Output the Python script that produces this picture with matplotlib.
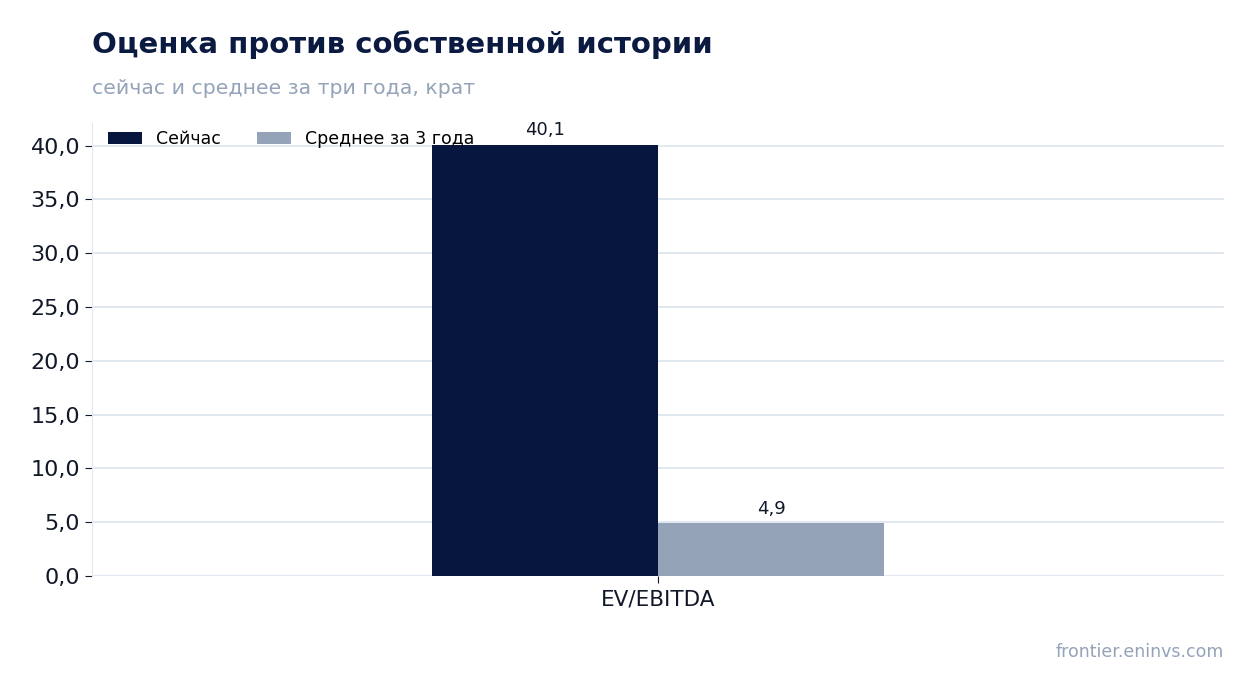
import matplotlib.pyplot as plt
import numpy as np

categories = ['EV/EBITDA']
now_vals = [40.1]
avg_vals = [4.9]
series_names = ['Сейчас', 'Среднее за 3 года']

navy = '#06163f'
grey = '#94a3b8'

fig = plt.figure(figsize=(12.54, 6.93), dpi=100)
ax = fig.add_axes([0.0734, 0.1688, 0.9026, 0.6537])

x = np.arange(len(categories))
w = 0.4
b1 = ax.bar(x - w / 2, now_vals, w, color=navy, label=series_names[0], zorder=3)
b2 = ax.bar(x + w / 2, avg_vals, w, color=grey, label=series_names[1], zorder=3)

for bars in (b1, b2):
    for r in bars:
        ax.text(r.get_x() + r.get_width() / 2, r.get_height() + 0.5,
                f'{r.get_height():.1f}'.replace('.', ','),
                ha='center', va='bottom', fontsize=13, color='#111827')

ax.set_xlim(-1, 1)
ax.set_ylim(0, max(now_vals) * 1.05)
ax.set_yticks(np.arange(0, 41, 5))
ax.set_yticklabels([f'{v:.1f}'.replace('.', ',') for v in np.arange(0, 41, 5)])
ax.set_xticks(x)
ax.set_xticklabels(categories)

ax.grid(axis='y', color='#e2e8f0', linewidth=1.4, zorder=0)
for s in ('top', 'right', 'bottom'):
    ax.spines[s].set_visible(False)
ax.spines['left'].set_color('#e2e8f0')
ax.tick_params(axis='y', labelsize=16, colors='#111827', length=5)
ax.tick_params(axis='x', labelsize=15.5, colors='#111827', length=5, pad=5)

ax.legend(loc='upper left', ncol=2, frameon=False, fontsize=12.5,
          bbox_to_anchor=(0.0, 1.018), handlelength=2.0, columnspacing=2.04)

fig.text(0.0734, 0.936, 'Оценка против собственной истории', fontsize=21,
         fontweight='bold', color='#0b1a40', va='center')
fig.text(0.0734, 0.873, 'сейчас и среднее за три года, крат', fontsize=14.7,
         color=grey, va='center')
fig.text(0.976, 0.059, 'frontier.eninvs.com', fontsize=12.5, color=grey,
         ha='right', va='center')

fig.savefig('out.png', dpi=100)
